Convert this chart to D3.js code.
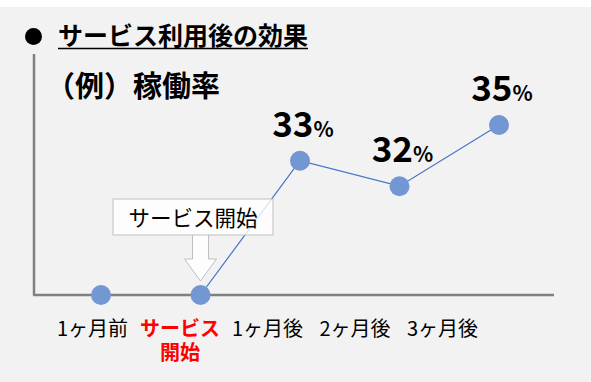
<!DOCTYPE html>
<html><head><meta charset="utf-8">
<script src="https://cdn.jsdelivr.net/npm/d3@7"></script>
<style>
html,body{margin:0;padding:0;background:#fff;}
svg{display:block;}
text{font-family:"Noto Sans CJK JP","Noto Sans",sans-serif;}
</style></head>
<body><div id="chart"></div>
<script>
const categories = ["1ヶ月前", "サービス開始", "1ヶ月後", "2ヶ月後", "3ヶ月後"];
const categoryLines = [["1ヶ月前"], ["サービス", "開始"], ["1ヶ月後"], ["2ヶ月後"], ["3ヶ月後"]];
const rateLabels = [null, null, "33", "32", "35"];
// plotted height of each point (relative 0–100; schematic)
const levels = [0, 0, 79, 64, 100];
const titleText = "サービス利用後の効果";
const subtitleText = "（例）稼働率";
const calloutText = "サービス開始";

const W = 591, H = 382;
const svg = d3.select("#chart").append("svg").attr("width", W).attr("height", H);
svg.append("rect").attr("x", 0).attr("y", 7).attr("width", W).attr("height", H - 7).attr("fill", "#f2f2f2");

const x = d3.scalePoint().domain(categories).range([101, 499]);
const xLab = d3.scalePoint().domain(categories).range([92, 442]);
const y = d3.scaleLinear().domain([0, 100]).range([295, 125]);

// title
svg.append("circle").attr("cx", 33.5).attr("cy", 36.5).attr("r", 8.5).attr("fill", "#000");
const t = svg.append("text").attr("x", 58).attr("y", 45).attr("font-size", 25).attr("font-weight", 700)
  .attr("fill", "#000").text(titleText);
const tb = t.node().getBBox();
svg.append("line").attr("x1", tb.x).attr("x2", tb.x + tb.width).attr("y1", 48.5).attr("y2", 48.5)
  .attr("stroke", "#000").attr("stroke-width", 1.5);

svg.append("text").attr("x", 46).attr("y", 97).attr("font-size", 29).attr("font-weight", 700)
  .attr("fill", "#000").text(subtitleText);

// axes
svg.append("line").attr("x1", 34).attr("x2", 34).attr("y1", 54).attr("y2", y(0))
  .attr("stroke", "#808080").attr("stroke-width", 2.5);
svg.append("line").attr("x1", 33).attr("x2", 554).attr("y1", y(0)).attr("y2", y(0))
  .attr("stroke", "#808080").attr("stroke-width", 2.5);

// line series (drawn from service start onward)
const pts = categories.map((c, i) => ({c, v: levels[i], lab: rateLabels[i]}));
const line = d3.line().x(d => x(d.c)).y(d => y(d.v));
svg.append("path").datum(pts.slice(1)).attr("d", line).attr("fill", "none")
  .attr("stroke", "#4472c4").attr("stroke-width", 1.2);

// callout box + arrow
const cx = x(categories[1]);
const g = svg.append("g");
g.append("path")
  .attr("d", `M${cx-8},235 L${cx-8},259 L${cx-16},259 L${cx},281 L${cx+16},259 L${cx+8},259 L${cx+8},235`)
  .attr("fill", "#fff").attr("fill-opacity", 0.85).attr("stroke", "#bfbfbf").attr("stroke-width", 1);
g.append("rect").attr("x", 113).attr("y", 199).attr("width", 160).attr("height", 36)
  .attr("fill", "#fff").attr("fill-opacity", 0.8).attr("stroke", "#bfbfbf").attr("stroke-width", 1);
g.append("text").attr("x", 193).attr("y", 226).attr("text-anchor", "middle").attr("font-size", 21.5)
  .attr("fill", "#000").text(calloutText);

// points
svg.selectAll("circle.pt").data(pts).join("circle").attr("class", "pt")
  .attr("cx", d => x(d.c)).attr("cy", d => y(d.v)).attr("r", 10).attr("fill", "#7297d2");

// value labels
const vl = svg.selectAll("text.val").data(pts.filter(d => d.lab)).join("text").attr("class", "val")
  .attr("x", d => x(d.c) + 3).attr("y", d => y(d.v) - 24).attr("text-anchor", "middle")
  .attr("font-weight", 700).attr("fill", "#000");
vl.append("tspan").attr("font-size", 35).text(d => d.lab);
vl.append("tspan").attr("font-size", 21).text("%");

// category labels
const xa = d3.axisBottom(xLab).tickSize(0).tickFormat(() => "");
const ag = svg.append("g").attr("transform", "translate(0,318)").call(xa);
ag.select(".domain").remove();
ag.selectAll(".tick").each(function(d, i) {
  const tg = d3.select(this);
  const lines = categoryLines[i];
  const red = i === 1;
  const tx = tg.append("text").attr("x", 0).attr("y", 18).attr("text-anchor", "middle")
    .attr("font-size", 20).attr("font-weight", red ? 700 : 400)
    .attr("fill", red ? "#ff0000" : "#000");
  lines.forEach((ln, k) => {
    tx.append("tspan").attr("x", 0).attr("dy", k === 0 ? 0 : 24).text(ln);
  });
});
</script>
</body></html>
